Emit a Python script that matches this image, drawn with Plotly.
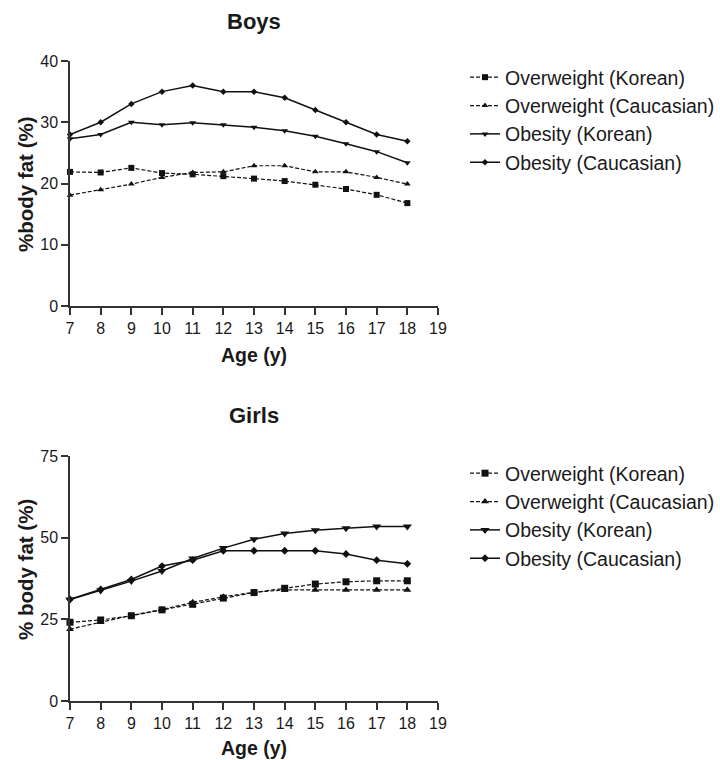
import plotly.graph_objects as go

ages = [7, 8, 9, 10, 11, 12, 13, 14, 15, 16, 17, 18]
series_names = ["Overweight (Korean)", "Overweight (Caucasian)", "Obesity (Korean)", "Obesity (Caucasian)"]

boys_ow_korean = [21.9, 21.8, 22.55, 21.7, 21.5, 21.2, 20.8, 20.4, 19.8, 19.1, 18.15, 16.8]
boys_ow_cauc = [18.1, 19.0, 19.9, 21.0, 21.8, 21.9, 22.9, 22.9, 21.9, 21.9, 21.0, 19.9]
boys_ob_korean = [27.3, 28.0, 30.0, 29.6, 29.9, 29.6, 29.2, 28.6, 27.7, 26.5, 25.2, 23.4]
boys_ob_cauc = [28.0, 30.0, 33.0, 35.0, 36.0, 35.0, 35.0, 34.0, 32.0, 30.0, 28.0, 26.9]

girls_ow_korean = [24.1, 24.8, 26.1, 27.9, 29.6, 31.5, 33.2, 34.5, 35.8, 36.5, 36.8, 36.8]
girls_ow_cauc = [22.0, 24.1, 26.2, 28.0, 30.2, 31.9, 33.3, 34.0, 34.0, 34.0, 34.0, 34.0]
girls_ob_korean = [31.1, 33.8, 36.7, 39.8, 43.6, 46.8, 49.5, 51.3, 52.3, 52.9, 53.4, 53.4]
girls_ob_cauc = [31.1, 34.2, 37.2, 41.3, 43.1, 46.0, 46.0, 46.0, 46.0, 45.0, 43.1, 42.0]

x_ticks = list(range(7, 20))
boys_y_ticks = [0, 10, 20, 30, 40]
girls_y_ticks = [0, 25, 50, 75]

FONT = "Liberation Sans, Arial, sans-serif"
TXT = "#1a1a1a"
symbols = ["square", "triangle-up", "triangle-down", "diamond"]
dashes = ["4px,2px", "4px,2px", "solid", "solid"]
widths = [1.2, 1.2, 1.5, 1.5]
boys_msizes = [6, 6, 6, 5]
girls_msizes = [7, 7, 8, 6]

W, H = 720, 760
def px(x):
    return x / W
def py(y):
    return 1 - y / H

fig = go.Figure()

def add_group(vals, msizes, xa, ya, legend):
    for name, v, s, d, w, ms in zip(series_names, vals, symbols, dashes, widths, msizes):
        fig.add_trace(go.Scatter(
            x=ages, y=v, name=name, mode="lines+markers",
            line=dict(color="#111111", width=w, dash=d),
            marker=dict(symbol=s, size=ms, color="#111111"),
            xaxis=xa, yaxis=ya, legend=legend, cliponaxis=False,
        ))

add_group([boys_ow_korean, boys_ow_cauc, boys_ob_korean, boys_ob_cauc], boys_msizes, "x", "y", "legend")
add_group([girls_ow_korean, girls_ow_cauc, girls_ob_korean, girls_ob_cauc], girls_msizes, "x2", "y2", "legend2")

axis_common = dict(
    showline=True, linecolor="#333333", linewidth=1.5, ticks="outside", ticklen=7,
    tickcolor="#333333", tickwidth=1.5, showgrid=False, zeroline=False, automargin=False,
    tickfont=dict(family=FONT, size=16, color=TXT),
)

x0, x1 = px(70), px(438)
xc = (x0 + x1) / 2
legend_common = dict(xanchor="right", yanchor="top", x=1.0,
                     font=dict(family=FONT, size=19.5, color=TXT), itemwidth=30,
                     bgcolor="rgba(0,0,0,0)", tracegroupgap=0)

fig.update_layout(
    width=W, height=H,
    margin=dict(l=0, r=0, t=0, b=0, autoexpand=False),
    plot_bgcolor="white", paper_bgcolor="white",
    font=dict(family=FONT, color=TXT),
    xaxis=dict(domain=[x0, x1], range=[7, 19], tickvals=x_ticks, anchor="y", **axis_common),
    yaxis=dict(domain=[py(306), py(61)], range=[0, 40], tickvals=boys_y_ticks, anchor="x", **axis_common),
    xaxis2=dict(domain=[x0, x1], range=[7, 19], tickvals=x_ticks, anchor="y2", **axis_common),
    yaxis2=dict(domain=[py(701), py(456)], range=[0, 75], tickvals=girls_y_ticks, anchor="x2", **axis_common),
    legend=dict(y=py(58), **legend_common),
    legend2=dict(y=py(454), **legend_common),
    annotations=[
        dict(text="<b>Boys</b>", x=xc, y=py(22), xref="paper", yref="paper", yanchor="middle",
             showarrow=False, font=dict(family=FONT, size=22, color=TXT)),
        dict(text="<b>Girls</b>", x=xc, y=py(415), xref="paper", yref="paper", yanchor="middle",
             showarrow=False, font=dict(family=FONT, size=22, color=TXT)),
        dict(text="<b>Age (y)</b>", x=xc, y=py(355), xref="paper", yref="paper", yanchor="middle",
             showarrow=False, font=dict(family=FONT, size=19.5, color=TXT)),
        dict(text="<b>Age (y)</b>", x=xc, y=py(748), xref="paper", yref="paper", yanchor="middle",
             showarrow=False, font=dict(family=FONT, size=19.5, color=TXT)),
        dict(text="<b>%body fat (%)</b>", x=px(26), y=py(184), xref="paper", yref="paper",
             xanchor="center", yanchor="middle", textangle=-90,
             showarrow=False, font=dict(family=FONT, size=20.5, color=TXT)),
        dict(text="<b>% body fat (%)</b>", x=px(25), y=py(570), xref="paper", yref="paper",
             xanchor="center", yanchor="middle", textangle=-90,
             showarrow=False, font=dict(family=FONT, size=20.5, color=TXT)),
    ],
)

fig.write_html(
    "out.html",
    config={"displayModeBar": False},
    post_script="document.body.style.margin='0';document.documentElement.style.overflow='hidden';",
)
